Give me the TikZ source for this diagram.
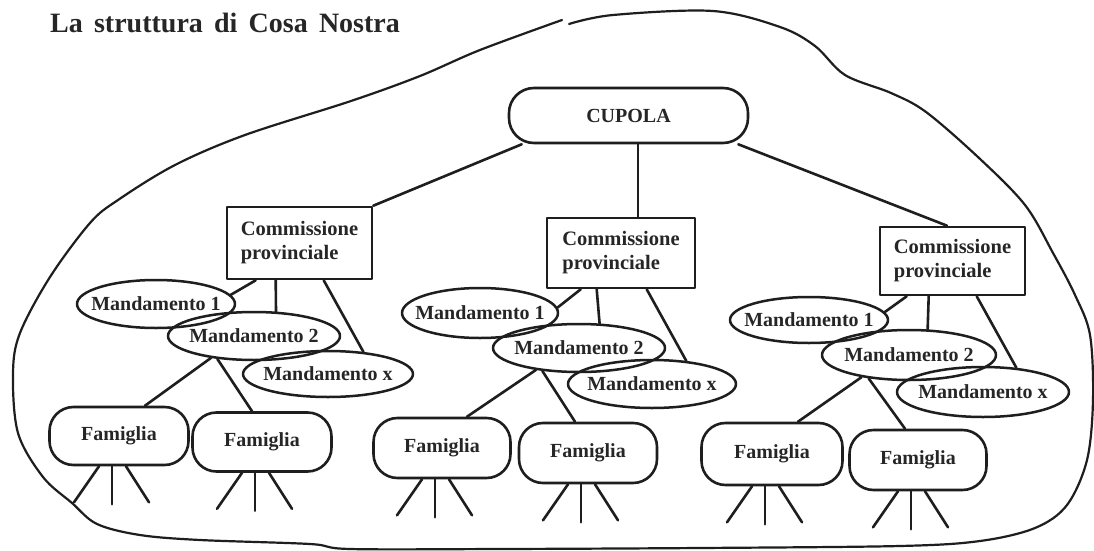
\documentclass[tikz,border=0pt]{standalone}
\usepackage{fontspec}
\setmainfont{Liberation Serif}
\newfontfamily\titlefont[WordSpace=1.6]{Liberation Serif}
\usetikzlibrary{shapes.geometric}
\definecolor{ink}{HTML}{1E1E1E}
\definecolor{txt}{HTML}{262626}
\begin{document}
\begin{tikzpicture}[x=1pt,y=-1pt,line join=round,line cap=round,
  every node/.style={text=txt},
  conn/.style={draw=ink,line width=2.6pt},
  blob/.style={draw=ink,line width=2.2pt},
  comm/.style={draw=ink,line width=2.6pt,rectangle,inner sep=0pt,align=left,
    font=\fontsize{20.5}{24}\selectfont\bfseries},
  mand/.style={draw=ink,line width=2.5pt,ellipse,inner sep=0pt,
    font=\fontsize{20}{24}\selectfont\bfseries},
  fam/.style={draw=ink,line width=2.6pt,rectangle,rounded corners=24pt,inner sep=0pt,
    font=\fontsize{20}{24}\selectfont\bfseries},
  pill/.style={draw=ink,line width=2.6pt,rectangle,rounded corners=25pt,inner sep=0pt,
    font=\fontsize{20}{24}\selectfont\bfseries}]
\useasboundingbox[fill=white] (0,0) rectangle (1094,551);

% title
\node[anchor=base west,inner sep=0pt,
  font=\titlefont\fontsize{28}{30}\selectfont\bfseries]
  (title) at (50,33) {La struttura di Cosa Nostra};

% outer outline
\draw[blob] plot[smooth,tension=0.55] coordinates {
 (569,24) (613,15) (713,11) (780,27) (815,46) (845,75) (891,93) (926,112)
 (979,158) (1025,205) (1053,253) (1075,295) (1090,335) (1093,400) (1087,460)
 (1067,505) (1035,528) (980,541) (900,546) (700,548) (500,549) (350,549)
 (310,544) (200,540) (140,535) (97,524) (72,503) (43,477) (18,433) (13,373)
 (20,333) (50,277) (90,223) (118,200) (175,165) (245,135) (351,101)
 (420,76) (480,50) (562,20)};

% top
\node[pill,minimum width=239pt,minimum height=55pt] (cupola) at (628.5,115.5) {CUPOLA};

% commissions
\node[comm,minimum width=145pt,minimum height=72pt] (c1) at (299.5,243) {Commissione\\provinciale};
\node[comm,minimum width=148pt,minimum height=70pt] (c2) at (621,253) {Commissione\\provinciale};
\node[comm,minimum width=145pt,minimum height=68pt] (c3) at (952.5,261) {Commissione\\provinciale};

% mandamenti
\node[mand,minimum width=158pt,minimum height=48pt] (lm1) at (156,304) {\makebox[0pt]{Mandamento 1}};
\node[mand,minimum width=172pt,minimum height=48pt] (lm2) at (254,336) {\makebox[0pt]{Mandamento 2}};
\node[mand,minimum width=170pt,minimum height=46pt] (lmx) at (328,374) {\makebox[0pt]{Mandamento x}};
\node[mand,minimum width=156pt,minimum height=50pt] (mm1) at (480,313) {\makebox[0pt]{Mandamento 1}};
\node[mand,minimum width=172pt,minimum height=48pt] (mm2) at (579,348) {\makebox[0pt]{Mandamento 2}};
\node[mand,minimum width=168pt,minimum height=48pt] (mmx) at (652,384) {\makebox[0pt]{Mandamento x}};
\node[mand,minimum width=158pt,minimum height=46pt] (rm1) at (809,320) {\makebox[0pt]{Mandamento 1}};
\node[mand,minimum width=174pt,minimum height=50pt] (rm2) at (909,355) {\makebox[0pt]{Mandamento 2}};
\node[mand,minimum width=172pt,minimum height=50pt] (rmx) at (983,392) {\makebox[0pt]{Mandamento x}};

% famiglie
\node[fam,minimum width=139pt,minimum height=58pt] (lf1) at (119,436) {Famiglia};
\node[fam,minimum width=139pt,minimum height=59pt] (lf2) at (262,442) {Famiglia};
\node[fam,minimum width=137pt,minimum height=60pt] (mf1) at (442,448) {Famiglia};
\node[fam,minimum width=138pt,minimum height=60pt] (mf2) at (588,453) {Famiglia};
\node[fam,minimum width=141pt,minimum height=62pt] (rf1) at (772,454) {Famiglia};
\node[fam,minimum width=137pt,minimum height=60pt] (rf2) at (918,460) {Famiglia};

% cupola connectors
\draw[conn] ([xshift=14pt]cupola.south west) -- (c1.north east);
\draw[conn] ([xshift=9.5pt]cupola.south) -- ([xshift=9.5pt]cupola.south |- c2.north);
\draw[conn] ([xshift=-11pt]cupola.south east) -- ([xshift=-5.5pt]c3.north);

% left group
\draw[conn] ([xshift=30pt]c1.south west) -- (lm1.7);
\draw[conn] ([xshift=50pt]c1.south west) -- (lm2.48);
\draw[conn] ([xshift=98pt]c1.south west) -- (lmx.32);
\draw[conn] (lm2.207) -- ([xshift=26pt]lf1.north);
\draw[conn] (lm2.212) -- ([xshift=-10pt]lf2.north);

% middle group
\draw[conn] ([xshift=35pt]c2.south west) -- (mm1.4);
\draw[conn] ([xshift=51pt]c2.south west) -- (mm2.50);
\draw[conn] ([xshift=101pt]c2.south west) -- (mmx.34);
\draw[conn] (mm2.207) -- ([xshift=25pt]mf1.north);
\draw[conn] (mm2.212) -- ([xshift=-13pt]mf2.north);

% right group
\draw[conn] ([xshift=28pt]c3.south west) -- (rm1.6);
\draw[conn] ([xshift=50pt]c3.south west) -- (rm2.54);
\draw[conn] ([xshift=98pt]c3.south west) -- (rmx.36);
\draw[conn] (rm2.205) -- ([xshift=26pt]rf1.north);
\draw[conn] (rm2.210) -- ([xshift=-13pt]rf2.north);

% legs under each family
\foreach \f in {lf1,lf2,mf1,mf2,rf1,rf2}{
  \draw[conn] ([xshift=-20pt]\f.south) -- ++(-25,36);
  \draw[conn] ([xshift=-7pt]\f.south) -- ++(0,38);
  \draw[conn] ([xshift=7pt]\f.south) -- ++(23,36);
}
\end{tikzpicture}
\end{document}
